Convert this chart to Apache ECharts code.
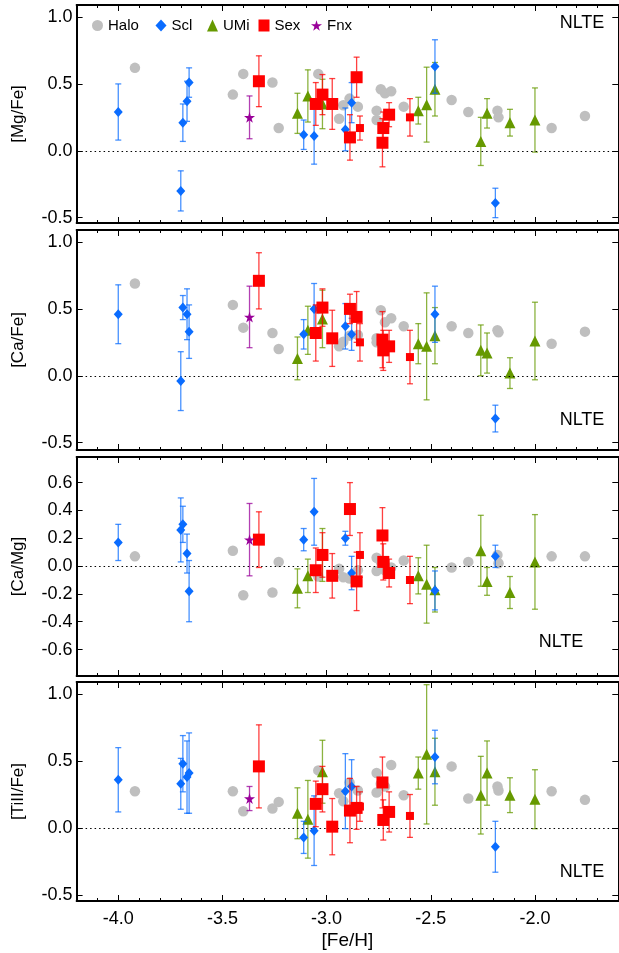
<!DOCTYPE html>
<html><head><meta charset="utf-8">
<script src="https://cdn.jsdelivr.net/npm/echarts@6/dist/echarts.min.js"></script>
<style>html,body{margin:0;padding:0;background:#fff}#c{width:619px;height:953px}</style>
</head><body><div id="c"></div>
<script>
// ---------------- DATA ----------------
const xMajorTicks = [-4.0, -3.5, -3.0, -2.5, -2.0];
const yTicksFe = [-0.5, 0.0, 0.5, 1.0];
const yTicksCaMg = [-0.6, -0.4, -0.2, 0.0, 0.2, 0.4, 0.6];
const legendNames = ['Halo', 'Scl', 'UMi', 'Sex', 'Fnx'];

// Halo: [ [Fe/H], ratio ]
const haloMg = [[-3.92,0.62],[-3.45,0.42],[-3.40,0.575],[-3.26,0.51],[-3.23,0.17],[-3.04,0.575],[-2.94,0.24],[-2.92,0.34],[-2.89,0.39],[-2.85,0.33],[-2.76,0.30],[-2.76,0.23],[-2.74,0.46],[-2.72,0.43],[-2.69,0.445],[-2.63,0.33],[-2.40,0.38],[-2.32,0.29],[-2.18,0.30],[-2.175,0.25],[-1.92,0.17],[-1.76,0.26]];
const haloCa = [[-3.92,0.69],[-3.45,0.53],[-3.40,0.36],[-3.26,0.32],[-3.23,0.20],[-3.04,0.50],[-2.94,0.22],[-2.92,0.255],[-2.89,0.30],[-2.85,0.305],[-2.76,0.28],[-2.76,0.25],[-2.74,0.49],[-2.72,0.40],[-2.69,0.43],[-2.63,0.37],[-2.40,0.37],[-2.32,0.32],[-2.18,0.34],[-2.175,0.325],[-1.92,0.24],[-1.76,0.33]];
const haloCaMg = [[-3.92,0.07],[-3.45,0.11],[-3.40,-0.21],[-3.26,-0.19],[-3.23,0.03],[-3.04,-0.075],[-2.94,-0.02],[-2.92,-0.08],[-2.89,-0.09],[-2.85,-0.03],[-2.76,0.06],[-2.76,-0.035],[-2.74,0.03],[-2.72,-0.03],[-2.69,-0.01],[-2.63,0.04],[-2.40,-0.01],[-2.32,0.03],[-2.18,0.08],[-2.175,0.02],[-1.92,0.07],[-1.76,0.07]];
const haloTi = [[-3.92,0.275],[-3.45,0.275],[-3.40,0.125],[-3.26,0.145],[-3.23,0.195],[-3.04,0.43],[-2.94,0.26],[-2.92,0.20],[-2.89,0.34],[-2.85,0.28],[-2.76,0.41],[-2.76,0.265],[-2.74,0.33],[-2.72,0.31],[-2.69,0.47],[-2.63,0.245],[-2.40,0.46],[-2.32,0.22],[-2.18,0.31],[-2.175,0.28],[-1.92,0.275],[-1.76,0.21]];

// Sculptor
const sclFeH     = [-4.00, -3.70, -3.69, -3.67, -3.66, -3.11, -3.06, -2.91, -2.88, -2.48, -2.19];
const sclMg      = [0.29, -0.30, 0.21, 0.37, 0.51, 0.12, 0.11, 0.16, 0.36, 0.63, -0.39];
const sclMgErr   = [0.21, 0.15, 0.14, 0.15, 0.11, 0.11, 0.21, 0.16, 0.15, 0.20, 0.11];
const sclCa      = [0.46, -0.04, 0.51, 0.46, 0.33, 0.31, 0.50, 0.37, 0.31, 0.46, -0.32];
const sclCaErr   = [0.22, 0.22, 0.09, 0.19, 0.20, 0.11, 0.19, 0.17, 0.12, 0.21, 0.10];
const sclCaMg    = [0.17, 0.26, 0.30, 0.09, -0.18, 0.19, 0.39, 0.20, -0.05, -0.175, 0.07];
const sclCaMgErr = [0.13, 0.23, 0.13, 0.14, 0.22, 0.08, 0.24, 0.05, 0.12, 0.14, 0.08];
const sclTi      = [0.36, 0.33, 0.48, 0.38, 0.41, -0.07, -0.02, 0.275, 0.31, 0.53, -0.14];
const sclTiErr   = [0.24, 0.19, 0.21, 0.27, 0.30, 0.12, 0.26, 0.28, 0.20, 0.20, 0.19];

// Ursa Minor
const umiFeH     = [-3.14, -3.09, -3.02, -2.56, -2.52, -2.48, -2.26, -2.23, -2.12, -2.00];
const umiMg      = [0.28, 0.41, 0.35, 0.30, 0.345, 0.46, 0.07, 0.28, 0.21, 0.23];
const umiMgErr   = [0.15, 0.195, 0.185, 0.10, 0.28, 0.20, 0.18, 0.11, 0.10, 0.24];
const umiCa      = [0.13, 0.34, 0.425, 0.24, 0.22, 0.30, 0.19, 0.17, 0.02, 0.26];
const umiCaErr   = [0.16, 0.18, 0.215, 0.15, 0.40, 0.21, 0.19, 0.15, 0.115, 0.29];
const umiCaMg    = [-0.16, -0.07, 0.08, -0.07, -0.13, -0.17, 0.11, -0.11, -0.19, 0.03];
const umiCaMgErr = [0.14, 0.12, 0.19, 0.13, 0.28, 0.16, 0.255, 0.10, 0.115, 0.34];
const umiTi      = [0.11, 0.065, 0.42, 0.41, 0.55, 0.42, 0.245, 0.41, 0.245, 0.215];
const umiTiErr   = [0.19, 0.29, 0.235, 0.12, 0.52, 0.25, 0.29, 0.24, 0.13, 0.22];

// Sextans (large symbols)
const sexFeH     = [-3.325, -3.052, -3.02, -2.973, -2.888, -2.856, -2.732, -2.728, -2.70];
const sexMg      = [0.52, 0.35, 0.42, 0.35, 0.10, 0.55, 0.06, 0.17, 0.27];
const sexMgErr   = [0.19, 0.16, 0.15, 0.19, 0.17, 0.15, 0.18, 0.12, 0.09];
const sexCa      = [0.71, 0.32, 0.51, 0.28, 0.50, 0.44, 0.27, 0.19, 0.22];
const sexCaErr   = [0.21, 0.21, 0.14, 0.21, 0.11, 0.19, 0.21, 0.15, 0.12];
const sexCaMg    = [0.19, -0.03, 0.08, -0.07, 0.41, -0.11, 0.22, 0.03, -0.05];
const sexCaMgErr = [0.20, 0.16, 0.16, 0.16, 0.19, 0.21, 0.20, 0.13, 0.10];
const sexTi      = [0.46, 0.18, 0.29, 0.01, 0.13, 0.15, 0.34, 0.06, 0.12];
const sexTiErr   = [0.31, 0.17, 0.17, 0.21, 0.24, 0.16, 0.19, 0.15, 0.15];
// Sextans (small symbols)
const sexSFeH     = [-2.84, -2.60];
const sexSMg      = [0.17, 0.25];
const sexSMgErr   = [0.09, 0.14];
const sexSCa      = [0.25, 0.14];
const sexSCaErr   = [0.14, 0.20];
const sexSCaMg    = [0.08, -0.10];
const sexSCaMgErr = [0.16, 0.17];
const sexSTi      = [0.16, 0.09];
const sexSTiErr   = [0.11, 0.16];

// Fornax
const fnxFeH = [-3.37];
const fnxMg = [0.25],  fnxMgErr = [0.16];
const fnxCa = [0.44],  fnxCaErr = [0.23];
const fnxCaMg = [0.19], fnxCaMgErr = [0.26];
const fnxTi = [0.22],  fnxTiErr = [0.09];

// ---------------- LAYOUT / STYLE ----------------
const FONT = '"Liberation Sans", Arial, Helvetica, sans-serif';
const X_MIN = -4.2, X_MAX = -1.6;
const xMinorTicks = [];
for (let k = -41; k <= -17; k++) { if (k % 5 !== 0) xMinorTicks.push(k / 10); }

const C = { halo:'#bfbfbf', scl:'#0a6cff', umi:'#669900', sex:'#ff0000', fnx:'#990099' };
const STAR = 'path://M50,0 L61,35 L98,35 L68,57 L79,91 L50,70 L21,91 L32,57 L2,35 L39,35 Z';
const legendLeft = [92, 155.5, 207, 258.5, 311];

const panels = [
  { name:'[Mg/Fe]', top:5,   height:218, min:-0.54,  max:1.09, yt:yTicksFe,   nlte:[582,23],
    halo:haloMg, scl:[sclMg,sclMgErr], umi:[umiMg,umiMgErr], sex:[sexMg,sexMgErr], sexS:[sexSMg,sexSMgErr], fnx:[fnxMg,fnxMgErr] },
  { name:'[Ca/Fe]', top:230, height:220, min:-0.555, max:1.09, yt:yTicksFe,   nlte:[582,420],
    halo:haloCa, scl:[sclCa,sclCaErr], umi:[umiCa,umiCaErr], sex:[sexCa,sexCaErr], sexS:[sexSCa,sexSCaErr], fnx:[fnxCa,fnxCaErr] },
  { name:'[Ca/Mg]', top:457, height:219, min:-0.79,  max:0.784, yt:yTicksCaMg, nlte:[561,642],
    halo:haloCaMg, scl:[sclCaMg,sclCaMgErr], umi:[umiCaMg,umiCaMgErr], sex:[sexCaMg,sexCaMgErr], sexS:[sexSCaMg,sexSCaMgErr], fnx:[fnxCaMg,fnxCaMgErr] },
  { name:'[TiII/Fe]', top:682, height:219, min:-0.545, max:1.09, yt:yTicksFe,  nlte:[582,872],
    halo:haloTi, scl:[sclTi,sclTiErr], umi:[umiTi,umiTiErr], sex:[sexTi,sexTiErr], sexS:[sexSTi,sexSTiErr], fnx:[fnxTi,fnxTiErr] }
];

function zip(xs, ys, es){ return xs.map((x,k)=>[x, ys[k], es[k]]); }

function errRender(color){
  return function(params, api){
    const x = api.value(0), y = api.value(1), e = api.value(2);
    const p1 = api.coord([x, y + e]), p2 = api.coord([x, y - e]);
    const cw = 3;
    const style = { stroke: color, lineWidth: 1.3, opacity: 0.75 };
    return { type:'group', children:[
      { type:'line', shape:{x1:p1[0],y1:p1[1],x2:p2[0],y2:p2[1]}, style },
      { type:'line', shape:{x1:p1[0]-cw,y1:p1[1],x2:p1[0]+cw,y2:p1[1]}, style },
      { type:'line', shape:{x1:p2[0]-cw,y1:p2[1],x2:p2[0]+cw,y2:p2[1]}, style }
    ]};
  };
}

const grids = [], xAxes = [], yAxes = [], series = [], graphics = [];
const GL = 76.6, GW = 541.7;

panels.forEach((p, i) => {
  grids.push({ left: GL, top: p.top, width: GW, height: p.height });
  const isLast = i === panels.length - 1;
  const base = { type:'value', gridIndex:i, min:X_MIN, max:X_MAX, splitLine:{show:false} };
  xAxes.push(Object.assign({}, base, {
    position:'bottom',
    axisLine:{ show:true, onZero:false, lineStyle:{ color:'#000', width:2 } },
    axisTick:{ show:true, inside:true, length:6, customValues:xMajorTicks, lineStyle:{color:'#000', width:1} },
    axisLabel:{ show:isLast, customValues:xMajorTicks, formatter:v=>v.toFixed(1), color:'#000', fontFamily:FONT, fontSize:18, margin:9 },
    name: isLast ? '[Fe/H]' : '', nameLocation:'middle', nameGap:30,
    nameTextStyle:{ color:'#000', fontFamily:FONT, fontSize:19, verticalAlign:'top' }
  }));
  xAxes.push(Object.assign({}, base, {
    position:'bottom', axisLine:{show:false, onZero:false},
    axisTick:{ show:true, inside:true, length:3, customValues:xMinorTicks, lineStyle:{color:'#000', width:1} },
    axisLabel:{ show:false }
  }));
  xAxes.push(Object.assign({}, base, {
    position:'top',
    axisLine:{ show:true, onZero:false, lineStyle:{ color:'#000', width:2 } },
    axisTick:{ show:true, inside:true, length:6, customValues:xMajorTicks, lineStyle:{color:'#000', width:1} },
    axisLabel:{ show:false }
  }));
  xAxes.push(Object.assign({}, base, {
    position:'top', axisLine:{show:false, onZero:false},
    axisTick:{ show:true, inside:true, length:3, customValues:xMinorTicks, lineStyle:{color:'#000', width:1} },
    axisLabel:{ show:false }
  }));
  yAxes.push({ type:'value', gridIndex:i, min:p.min, max:p.max, position:'left', splitLine:{show:false},
    axisLine:{ show:true, onZero:false, lineStyle:{color:'#000', width:2} },
    axisTick:{ show:true, inside:true, length:6, customValues:p.yt, lineStyle:{color:'#000', width:1} },
    axisLabel:{ customValues:p.yt, formatter:v=>v.toFixed(1), color:'#000', fontFamily:FONT, fontSize:18, margin:4 },
    name:p.name, nameLocation:'middle', nameGap:50,
    nameTextStyle:{ color:'#000', fontFamily:FONT, fontSize:17 }
  });
  yAxes.push({ type:'value', gridIndex:i, min:p.min, max:p.max, position:'right', splitLine:{show:false},
    axisLine:{ show:true, onZero:false, lineStyle:{color:'#000', width:2} },
    axisTick:{ show:true, inside:true, length:6, customValues:p.yt, lineStyle:{color:'#000', width:1} },
    axisLabel:{ show:false }
  });

  const xi = 4*i, yi = 2*i;
  const common = { xAxisIndex:xi, yAxisIndex:yi, animation:false };

  series.push(Object.assign({}, common, {
    name:'Halo', type:'scatter', symbol:'circle', symbolSize:10.5, z:2,
    itemStyle:{ color:C.halo, opacity:1 }, data:p.halo,
    markLine:{ silent:true, symbol:'none', animation:false, label:{show:false},
      lineStyle:{ color:'#000', type:[1.5,3], width:1 }, data:[{ yAxis:0 }] }
  }));

  series.push(Object.assign({}, common, { name:'UMi err', type:'custom', z:3,
    renderItem:errRender(C.umi), encode:{x:0,y:1}, data:zip(umiFeH, p.umi[0], p.umi[1]) }));
  series.push(Object.assign({}, common, { name:'UMi', type:'scatter', symbol:'triangle', symbolSize:11, z:4,
    itemStyle:{ color:C.umi, opacity:1 }, data:zip(umiFeH, p.umi[0], p.umi[1]) }));

  series.push(Object.assign({}, common, { name:'Scl err', type:'custom', z:5,
    renderItem:errRender(C.scl), encode:{x:0,y:1}, data:zip(sclFeH, p.scl[0], p.scl[1]) }));
  series.push(Object.assign({}, common, { name:'Scl', type:'scatter', symbol:'diamond', symbolSize:[9,10], z:6,
    itemStyle:{ color:C.scl, opacity:1 }, data:zip(sclFeH, p.scl[0], p.scl[1]) }));

  series.push(Object.assign({}, common, { name:'Sex err', type:'custom', z:7,
    renderItem:errRender(C.sex), encode:{x:0,y:1}, data:zip(sexFeH, p.sex[0], p.sex[1]).concat(zip(sexSFeH, p.sexS[0], p.sexS[1])) }));
  series.push(Object.assign({}, common, { name:'Sex', type:'scatter', symbol:'rect', symbolSize:12, z:8,
    itemStyle:{ color:C.sex, opacity:1 }, data:zip(sexFeH, p.sex[0], p.sex[1]) }));
  series.push(Object.assign({}, common, { name:'Sex', type:'scatter', symbol:'rect', symbolSize:8, z:8,
    itemStyle:{ color:C.sex, opacity:1 }, data:zip(sexSFeH, p.sexS[0], p.sexS[1]) }));

  series.push(Object.assign({}, common, { name:'Fnx err', type:'custom', z:9,
    renderItem:errRender(C.fnx), encode:{x:0,y:1}, data:zip(fnxFeH, p.fnx[0], p.fnx[1]) }));
  series.push(Object.assign({}, common, { name:'Fnx', type:'scatter', symbol:STAR, symbolSize:11, z:10,
    itemStyle:{ color:C.fnx, opacity:1 }, data:zip(fnxFeH, p.fnx[0], p.fnx[1]) }));

  graphics.push({ type:'text', x:p.nlte[0], y:p.nlte[1], z:20,
    style:{ text:'NLTE', fill:'#000', font:'18px ' + FONT, textAlign:'center', textVerticalAlign:'middle' } });
});

const legends = legendNames.map((n, k) => ({
  data:[n], left:legendLeft[k], top:18, padding:0, itemWidth:11, itemHeight:12, itemGap:0,
  selectedMode:false, textStyle:{ color:'#000', fontFamily:FONT, fontSize:15 }
}));

const chart = echarts.init(document.getElementById('c'), null, { renderer:'canvas' });
chart.setOption({
  animation:false,
  backgroundColor:'#fff',
  grid:grids, xAxis:xAxes, yAxis:yAxes, series:series, graphic:graphics,
  legend:legends
});
</script></body></html>
